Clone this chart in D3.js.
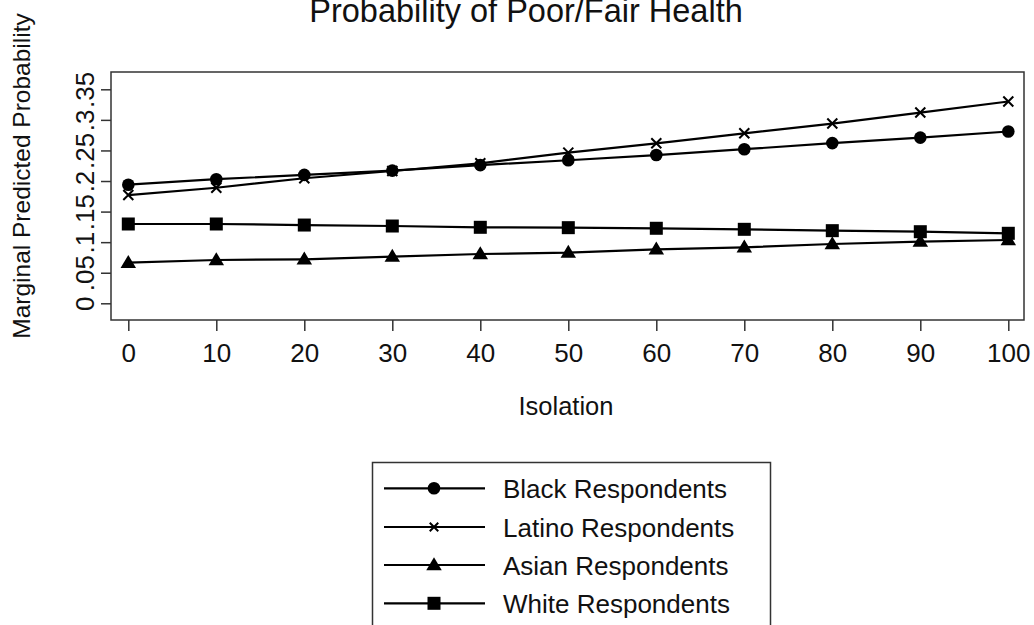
<!DOCTYPE html>
<html><head><meta charset="utf-8">
<script src="https://cdn.jsdelivr.net/npm/d3@7"></script>
<style>
body{margin:0;background:#fff;}
svg{display:block;font-family:"Liberation Sans",Arial,sans-serif;}
</style></head>
<body><svg id="c" width="1034" height="625"></svg>
<script>
const isolation = [0,10,20,30,40,50,60,70,80,90,100];
const black  = [.194,.203,.210,.217,.226,.234,.2425,.252,.262,.271,.281];
const latino = [.177,.189,.2045,.2164,.229,.2464,.2617,.278,.294,.312,.330];
const asian  = [.0664,.0708,.072,.0763,.0806,.0828,.0883,.0916,.097,.1008,.1035];
const white  = [.1297,.1297,.128,.1264,.1243,.1237,.1227,.121,.1188,.1171,.1145];
const yTicks = [0,.05,.1,.15,.2,.25,.3,.35];
const yTickLabels = ["0",".05",".1",".15",".2",".25",".3",".35"];
const xTicks = [0,10,20,30,40,50,60,70,80,90,100];
const seriesNames = ["Black Respondents","Latino Respondents","Asian Respondents","White Respondents"];
const seriesSymbols = ["circle","cross","triangle","square"];
const seriesValues = [black, latino, asian, white];

const svg = d3.select("#c");
const box = {l:111, t:72, r:1024, b:320};
const x = d3.scaleLinear().domain([0,100]).range([128.3,1008.3]);
const y = d3.scaleLinear().domain([0,.35]).range([303.3,89.3]);
const FS = 26;

// Title
svg.append("text").attr("x",526).attr("y",22).attr("text-anchor","middle")
  .attr("font-size",32.5).attr("fill","#111").text("Probability of Poor/Fair Health");

// plot box
svg.append("rect").attr("x",box.l).attr("y",box.t).attr("width",box.r-box.l).attr("height",box.b-box.t)
  .attr("fill","#fff").attr("stroke","#333").attr("stroke-width",1.5);

// y axis
const yAxis = d3.axisLeft(y).tickValues(yTicks).tickSize(10).tickFormat((d,i)=>yTickLabels[i]);
const gy = svg.append("g").attr("transform",`translate(${box.l},0)`).call(yAxis);
gy.select(".domain").remove();
gy.selectAll(".tick line").attr("stroke","#333").attr("stroke-width",1.5);
gy.selectAll(".tick text").attr("font-size",FS).attr("fill","#111")
  .attr("font-family","'Liberation Sans',Arial,sans-serif")
  .attr("x",null).attr("dy",null).attr("text-anchor","middle")
  .attr("transform","translate(-17,0) rotate(-90)");

// x axis
const xAxis = d3.axisBottom(x).tickValues(xTicks).tickSize(11).tickFormat(d3.format("d"));
const gx = svg.append("g").attr("transform",`translate(0,${box.b})`).call(xAxis);
gx.select(".domain").remove();
gx.selectAll(".tick line").attr("stroke","#333").attr("stroke-width",1.5);
gx.selectAll(".tick text").attr("font-size",FS).attr("fill","#111")
  .attr("font-family","'Liberation Sans',Arial,sans-serif")
  .attr("y",42).attr("dy",null);

// axis titles
svg.append("text").attr("transform","translate(30,176) rotate(-90)").attr("text-anchor","middle")
  .attr("font-size",24.5).attr("fill","#111").text("Marginal Predicted Probability");
svg.append("text").attr("x",566).attr("y",415).attr("text-anchor","middle")
  .attr("font-size",25.5).attr("fill","#111").text("Isolation");

// symbols
function drawSymbol(g, type, cx, cy, scale){
  scale = scale || 1;
  if(type==="circle"){
    g.append("circle").attr("cx",cx).attr("cy",cy).attr("r",6.3*scale).attr("fill","#000");
  } else if(type==="square"){
    const s=13*scale;
    g.append("rect").attr("x",cx-s/2).attr("y",cy-s/2).attr("width",s).attr("height",s).attr("fill","#000");
  } else if(type==="triangle"){
    const w=15.5*scale, h=13*scale;
    g.append("path").attr("d",`M${cx},${cy-h*0.6}L${cx+w/2},${cy+h*0.4}L${cx-w/2},${cy+h*0.4}Z`).attr("fill","#000");
  } else if(type==="cross"){
    const s=5*scale;
    g.append("path").attr("d",`M${cx-s},${cy-s}L${cx+s},${cy+s}M${cx-s},${cy+s}L${cx+s},${cy-s}`)
      .attr("stroke","#000").attr("stroke-width",2).attr("fill","none");
  }
}

const line = d3.line().x((d,i)=>x(isolation[i])).y(d=>y(d));
seriesValues.forEach((vals,k)=>{
  const g = svg.append("g");
  g.append("path").attr("d",line(vals)).attr("fill","none").attr("stroke","#000").attr("stroke-width",2.2);
  vals.forEach((v,i)=>drawSymbol(g, seriesSymbols[k], x(isolation[i]), y(v), 1));
});

// legend
const lg = svg.append("g");
lg.append("rect").attr("x",372.5).attr("y",462.5).attr("width",398).attr("height",200)
  .attr("fill","#fff").attr("stroke","#333").attr("stroke-width",1.5);
const rowY = [488.3,527,565,603.3];
seriesNames.forEach((name,k)=>{
  const cy = rowY[k];
  lg.append("line").attr("x1",384).attr("x2",485).attr("y1",cy).attr("y2",cy).attr("stroke","#000").attr("stroke-width",2.2);
  drawSymbol(lg, seriesSymbols[k], 434, cy, seriesSymbols[k]==="cross"?0.85:1);
  lg.append("text").attr("x",503).attr("y",cy+9.5).attr("font-size",FS).attr("fill","#111").text(name);
});
</script></body></html>
